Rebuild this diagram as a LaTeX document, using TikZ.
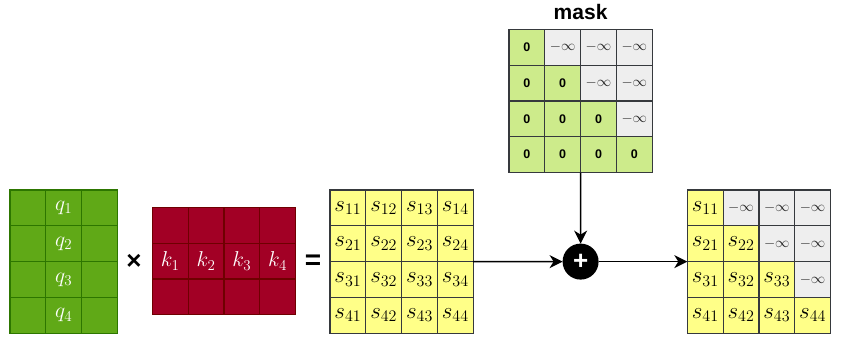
\RequirePackage{fix-cm}
\documentclass[tikz,border=0pt]{standalone}
\usepackage{fontspec}
\newfontfamily\hv{Liberation Sans}
\usetikzlibrary{arrows.meta}
\definecolor{qfill}{HTML}{60A917}\definecolor{qline}{HTML}{2D7600}
\definecolor{kfill}{HTML}{A20025}\definecolor{kline}{HTML}{6F0000}
\definecolor{sfill}{HTML}{FFFF88}\definecolor{sline}{HTML}{36393D}
\definecolor{mfill}{HTML}{CDEB8B}\definecolor{gfill}{HTML}{EEEEEE}
\tikzset{
  cell/.style={rectangle, minimum width=35.8pt, minimum height=35.8pt, inner sep=0pt, outer sep=0pt, line width=1.2pt, anchor=north west},
  qcell/.style={cell, fill=qfill, draw=qline, text=white, font=\fontsize{21.5}{24}\selectfont},
  kcell/.style={cell, fill=kfill, draw=kline, text=white, font=\fontsize{21.5}{24}\selectfont},
  scell/.style={cell, fill=sfill, draw=sline, text=black, font=\fontsize{23}{25}\selectfont},
  gcell/.style={cell, fill=gfill, draw=sline, text=black!85, font=\fontsize{14.4}{16}\selectfont},
  mcell/.style={cell, fill=mfill, draw=sline, text=black, font=\hv\bfseries\fontsize{12.5}{14}\selectfont},
  arr/.style={line width=1.5pt, -{Stealth[length=13pt, width=13pt, inset=4pt]}},
  sym/.style={font=\hv\bfseries\fontsize{28}{30}\selectfont}
}
\begin{document}
\begin{tikzpicture}[x=1pt,y=-1pt]
\useasboundingbox (0,0) rectangle (844,340);
\def\cs{35.8}
% Q matrix
\foreach \r in {1,...,4}{
  \foreach \c in {1,2,3}{
    \ifnum\c=2
      \node[qcell] (q-\r-\c) at ({10+(\c-1)*\cs},{190+(\r-1)*\cs}) {$q_{\r}$};
    \else
      \node[qcell] (q-\r-\c) at ({10+(\c-1)*\cs},{190+(\r-1)*\cs}) {};
    \fi
  }
}
\node[sym, font=\hv\bfseries\fontsize{26}{28}\selectfont] (times) at (134,262) {×};
% K matrix
\foreach \r in {1,2,3}{
  \foreach \c in {1,...,4}{
    \ifnum\r=2
      \node[kcell] (k-\r-\c) at ({152.3+(\c-1)*\cs},{207.3+(\r-1)*\cs}) {$k_{\c}$};
    \else
      \node[kcell] (k-\r-\c) at ({152.3+(\c-1)*\cs},{207.3+(\r-1)*\cs}) {};
    \fi
  }
}
\node[sym] (eq) at (313,262) {=};
% S matrix
\foreach \r in {1,...,4}{
  \foreach \c in {1,...,4}{
    \node[scell] (s-\r-\c) at ({330+(\c-1)*\cs},{190+(\r-1)*\cs}) {$s_{\r\c}$};
  }
}
% mask
\node[font=\hv\bfseries\fontsize{21}{23}\selectfont] (masklbl) at (580.6,12) {mask};
\foreach \r in {1,...,4}{
  \foreach \c in {1,...,4}{
    \ifnum\c>\r
      \node[gcell] (m-\r-\c) at ({509+(\c-1)*\cs},{29.3+(\r-1)*\cs}) {$-\infty$};
    \else
      \node[mcell] (m-\r-\c) at ({509+(\c-1)*\cs},{29.3+(\r-1)*\cs}) {0};
    \fi
  }
}
% result
\foreach \r in {1,...,4}{
  \foreach \c in {1,...,4}{
    \ifnum\c>\r
      \node[gcell] (r-\r-\c) at ({687.3+(\c-1)*\cs},{190+(\r-1)*\cs}) {$-\infty$};
    \else
      \node[scell] (r-\r-\c) at ({687.3+(\c-1)*\cs},{190+(\r-1)*\cs}) {$s_{\r\c}$};
    \fi
  }
}
% plus
\node[circle, fill=black, minimum size=36pt, inner sep=0pt, outer sep=0pt, text=white, font=\hv\bfseries\fontsize{26}{26}\selectfont] (plus) at (580.6,261.6) {+};
\draw[arr] (s-2-4.south east) -- (plus.west);
\draw[arr] (m-4-2.south east) -- (plus.north);
\draw[arr] (plus.east) -- (r-3-1.north west);
\end{tikzpicture}
\end{document}
